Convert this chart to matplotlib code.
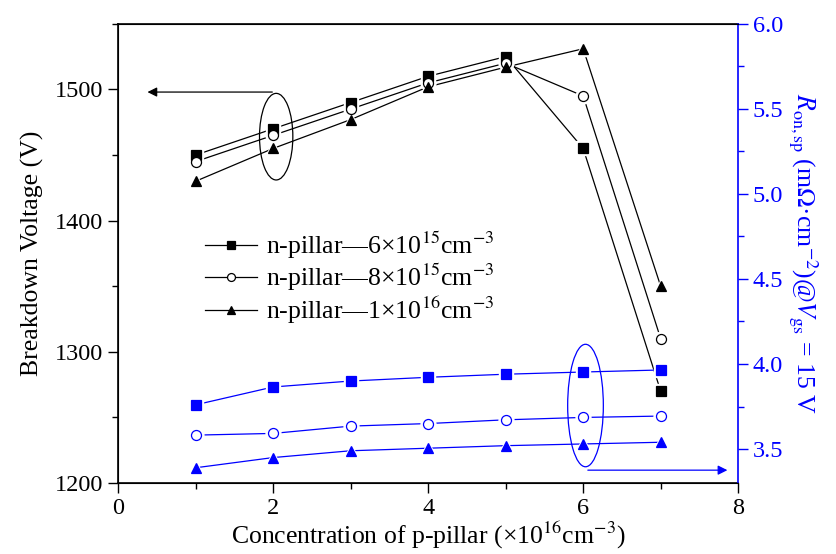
import matplotlib
matplotlib.use("Agg")
import matplotlib.pyplot as plt
from matplotlib.patches import Ellipse
from matplotlib.ticker import MultipleLocator, FormatStrFormatter

plt.rcParams['font.family'] = ['Liberation Serif', 'DejaVu Serif']
plt.rcParams['mathtext.fontset'] = 'stix'

# ---- data ----
p_conc = [1, 2, 3, 4, 5, 6, 7]

# breakdown voltage (V), left axis
bv_6e15 = [1450, 1470, 1490, 1510, 1525, 1455, 1270]
bv_8e15 = [1445, 1465, 1485, 1505, 1520, 1495, 1310]
bv_1e16 = [1430, 1455, 1477, 1502, 1517, 1531, 1350]

# specific on-resistance (mOhm cm^2), right axis
ron_6e15 = [3.76, 3.865, 3.90, 3.922, 3.94, 3.953, 3.965]
ron_8e15 = [3.582, 3.592, 3.635, 3.65, 3.672, 3.686, 3.694]
ron_1e16 = [3.39, 3.45, 3.49, 3.505, 3.52, 3.53, 3.54]

series_labels = [r"n-pillar—6×10$^{15}$cm$^{-3}$",
                 r"n-pillar—8×10$^{15}$cm$^{-3}$",
                 r"n-pillar—1×10$^{16}$cm$^{-3}$"]
markers = ['s', 'o', '^']
BLUE = '#0000ff'
TICK_FS = 17.5
LABEL_FS = 18.5

fig = plt.figure(figsize=(8.37, 5.54), dpi=100)
ax = fig.add_axes([0.141, 0.128, 0.741, 0.829])
ax2 = ax.twinx()


def draw(axis, x, y, marker, color, label=None):
    # line, then a white halo so the line stops short of the marker (Origin look)
    filled = marker != 'o'
    ms = 6.8 if marker == 's' else 7.2
    axis.plot(x, y, '-', color=color, lw=0.9, zorder=2)
    axis.plot(x, y, marker, ms=ms + 3.5, color='white', mec='white', ls='none', zorder=3)
    axis.plot(x, y, marker, ms=ms, color=color if filled else 'white',
              mec=color, mew=0.9, ls='none', zorder=4)
    if label is not None:
        axis.plot([], [], '-', marker=marker, ms=ms - 1.5, color=color,
                  mfc=color if filled else 'white', mec=color, mew=0.9, lw=0.9, label=label)


for vals, m, lab in zip([bv_6e15, bv_8e15, bv_1e16], markers, series_labels):
    draw(ax, p_conc, vals, m, 'black', lab)
for vals, m in zip([ron_6e15, ron_8e15, ron_1e16], markers):
    draw(ax2, p_conc, vals, m, BLUE)

# left axis
ax.set_xlim(0, 8)
ax.set_ylim(1200, 1550)
ax.xaxis.set_major_locator(MultipleLocator(2))
ax.xaxis.set_minor_locator(MultipleLocator(1))
ax.yaxis.set_major_locator(MultipleLocator(100))
ax.yaxis.set_minor_locator(MultipleLocator(50))
ax.tick_params(which='both', direction='out', labelsize=TICK_FS, top=False, right=False)
ax.tick_params(which='major', length=7, width=1)
ax.tick_params(which='minor', length=4, width=1)
ax.spines['right'].set_visible(False)
ax.set_xlabel(r"Concentration of p-pillar (×10$^{16}$cm$^{-3}$)", fontsize=LABEL_FS, labelpad=1)
ax.set_ylabel("Breakdown Voltage (V)", fontsize=LABEL_FS, labelpad=8)

# right axis
ax2.set_ylim(3.3, 6.0)
ax2.yaxis.set_major_locator(MultipleLocator(0.5))
ax2.yaxis.set_minor_locator(MultipleLocator(0.25))
ax2.yaxis.set_major_formatter(FormatStrFormatter('%.1f'))
ax2.tick_params(which='both', direction='out', labelsize=TICK_FS, colors=BLUE)
ax2.tick_params(which='major', length=7, width=1)
ax2.tick_params(which='minor', length=4, width=1)
ax2.spines['right'].set_color(BLUE)
ax2.spines['right'].set_linewidth(1.2)
ax2.set_ylabel(r"$R_{\mathrm{on,sp}}$ (m$\Omega$·cm$^{-2}$)@$V_{\mathrm{gs}}$ = 15 V",
               fontsize=LABEL_FS, color=BLUE, rotation=270, labelpad=26)
for s in ['left', 'top', 'bottom']:
    ax.spines[s].set_linewidth(1.2)

# ellipses + arrows pointing to their axes
ax.add_patch(Ellipse((2.04, 1464), 0.43, 66, fill=False, ec='black', lw=0.9, zorder=5))
ax.annotate('', xy=(0.38, 1498), xytext=(1.99, 1498),
            arrowprops=dict(arrowstyle='-|>', color='black', lw=0.9,
                            mutation_scale=14, shrinkA=0, shrinkB=0))
ax2.add_patch(Ellipse((6.03, 3.756), 0.46, 0.72, fill=False, ec=BLUE, lw=0.9, zorder=5))
ax2.annotate('', xy=(7.86, 3.376), xytext=(6.06, 3.376),
             arrowprops=dict(arrowstyle='-|>', color=BLUE, lw=0.9,
                             mutation_scale=14, shrinkA=0, shrinkB=0))

leg = ax.legend(loc='upper left', bbox_to_anchor=(0.12, 0.58), frameon=False,
                fontsize=LABEL_FS, handlelength=2.0, handletextpad=0.35, labelspacing=0.05,
                borderpad=0)

fig.savefig('out.png', dpi=100)
